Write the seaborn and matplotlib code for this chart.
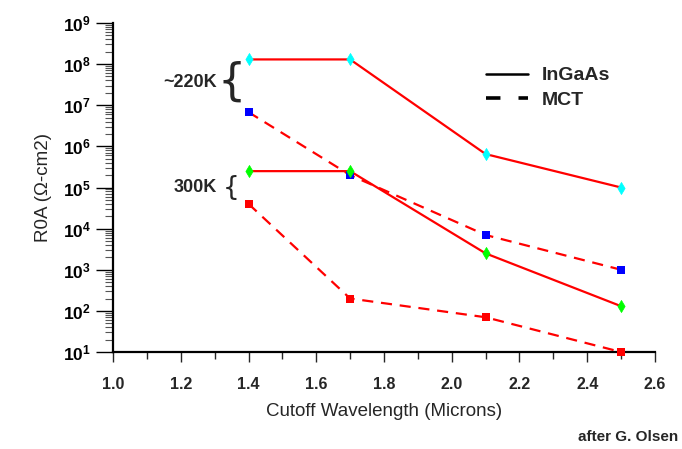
import matplotlib
matplotlib.use("Agg")
import matplotlib.pyplot as plt
from matplotlib.lines import Line2D
from matplotlib.ticker import FuncFormatter, LogLocator, MultipleLocator
import numpy as np
import pandas as pd
import seaborn as sns

# data
wavelength = [1.4, 1.7, 2.1, 2.5]
ingaas_220k = [1.3e8, 1.3e8, 6.5e5, 1.0e5]
mct_220k = [6.8e6, 2.0e5, 7.0e3, 1.0e3]
ingaas_300k = [2.5e5, 2.5e5, 2.5e3, 1.3e2]
mct_300k = [4.0e4, 2.0e2, 7.0e1, 1.0e1]

series_names = ["InGaAs 220K", "MCT 220K", "InGaAs 300K", "MCT 300K"]
series_values = [ingaas_220k, mct_220k, ingaas_300k, mct_300k]
series_material = ["InGaAs", "MCT", "InGaAs", "MCT"]
marker_colors = ["#00ffff", "#0000ff", "#00ff00", "#ff0000"]

df = pd.DataFrame({
    "wl": wavelength * 4,
    "r0a": sum(series_values, []),
    "series": np.repeat(series_names, len(wavelength)),
    "material": np.repeat(series_material, len(wavelength)),
})

sns.set_theme(style="ticks")
plt.rcParams["font.family"] = ["Liberation Sans", "DejaVu Sans"]
plt.rcParams["mathtext.fontset"] = "custom"
plt.rcParams["mathtext.rm"] = "Liberation Sans"
plt.rcParams["mathtext.bf"] = "Liberation Sans:bold"

fig = plt.figure(figsize=(6.82, 4.49), dpi=100)
ax = fig.add_axes([0.1657, 0.216, 0.7947, 0.7328])

for name, mat, col in zip(series_names, series_material, marker_colors):
    sub = df[df["series"] == name]
    ls = "-" if mat == "InGaAs" else (0, (5, 3.5))
    sns.lineplot(data=sub, x="wl", y="r0a", color="red", lw=1.6,
                 linestyle=ls, ax=ax, legend=False)
    if mat == "InGaAs":
        sns.scatterplot(data=sub, x="wl", y="r0a", marker="d", color=col,
                        s=38, edgecolor=col, linewidth=0.5, ax=ax,
                        zorder=5, clip_on=False, legend=False)
    else:
        sns.scatterplot(data=sub, x="wl", y="r0a", marker="s", color=col,
                        s=34, edgecolor=col, linewidth=0, ax=ax,
                        zorder=5, clip_on=False, legend=False)

ax.set_yscale("log")
ax.set_ylim(10, 1e9)
ax.set_xlim(1.0, 2.6)
ax.xaxis.set_major_locator(MultipleLocator(0.2))
ax.xaxis.set_minor_locator(MultipleLocator(0.1))
ax.yaxis.set_major_locator(LogLocator(base=10, numticks=20))
ax.yaxis.set_minor_locator(LogLocator(base=10, subs=np.arange(2, 10), numticks=20))
ax.yaxis.set_major_formatter(
    FuncFormatter(lambda v, _: rf"$\mathbf{{10^{{{int(round(np.log10(v)))}}}}}$"))
ax.xaxis.set_major_formatter(FuncFormatter(lambda v, _: f"{v:.1f}"))

sns.despine(ax=ax)
for s in ["left", "bottom"]:
    ax.spines[s].set_linewidth(1.6)
    ax.spines[s].set_color("black")
ax.tick_params(axis="y", which="major", length=12, width=1.0, labelsize=12.5,
               colors="black", pad=4)
ax.tick_params(axis="y", which="minor", length=6, width=0.8, color="#555555")
ax.tick_params(axis="x", which="major", length=7, width=1.0, labelsize=11.5, pad=11)
ax.tick_params(axis="x", which="minor", length=5, width=1.0)
for lab in ax.get_xticklabels():
    lab.set_fontweight("bold")

ax.set_xlabel("Cutoff Wavelength (Microns)", fontsize=13.5, labelpad=8)
ax.set_ylabel("R0A (Ω-cm2)", fontsize=13.5, labelpad=8)

# temperature brackets
ax.text(1.307, 3.5e7, "~220K", ha="right", va="center", fontsize=13,
        fontweight="bold", clip_on=False)
ax.text(1.35, 3.6e7, "{", ha="center", va="center", fontsize=32,
        fontfamily="DejaVu Sans", clip_on=False)
ax.text(1.307, 1.0e5, "300K", ha="right", va="center", fontsize=13,
        fontweight="bold", clip_on=False)
ax.text(1.348, 1.0e5, "{", ha="center", va="center", fontsize=19,
        fontfamily="DejaVu Sans", clip_on=False)

handles = [Line2D([], [], color="black", lw=1.8, linestyle="-"),
           Line2D([], [], color="black", lw=2.6, linestyle=(0, (4, 5)))]
leg = ax.legend(handles, ["InGaAs", "MCT"], loc="upper left",
                bbox_to_anchor=(0.655, 0.92), frameon=False, handlelength=2.2,
                handletextpad=0.7, labelspacing=0.35,
                prop={"weight": "bold", "size": 14})

fig.text(0.995, 0.027, "after G. Olsen", ha="right", va="center",
         fontsize=11, fontweight="bold")

fig.savefig("out.png", dpi=100)
